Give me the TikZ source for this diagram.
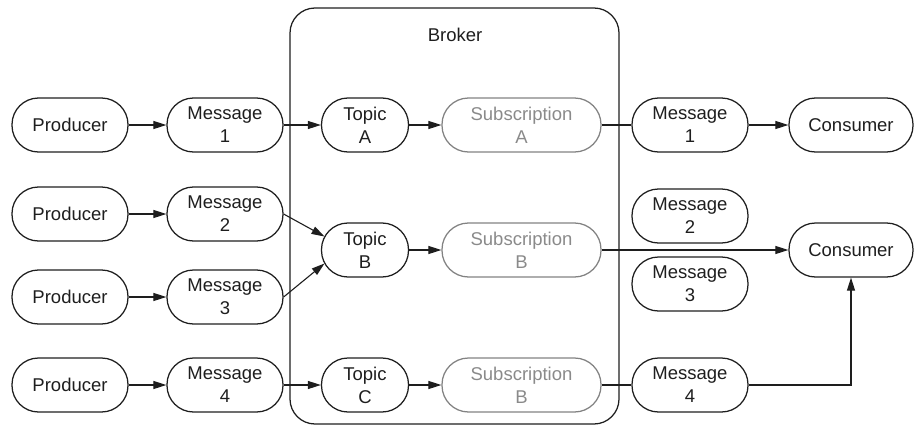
\documentclass[tikz,border=0pt]{standalone}
\usepackage{fontspec}
\setmainfont{Liberation Sans}
\usetikzlibrary{arrows.meta}
\definecolor{subline}{RGB}{130,130,130}
\definecolor{subtext}{RGB}{138,138,138}
\definecolor{ink}{RGB}{30,30,30}

\begin{document}
\begin{tikzpicture}[x=1pt, y=-1pt, ->, >={Triangle[length=13pt,width=8pt]},
    line width=1.1pt, draw=ink, text=ink,
    font=\fontsize{18.5}{23}\selectfont]
    \tikzset{pill/.style={rectangle, draw=ink, line width=1.25pt, rounded corners=26.5pt,
                         minimum height=54pt, minimum width=116pt,
                         align=center, inner sep=2pt},
             topic/.style={pill, minimum width=87pt},
             subscr/.style={pill, draw=subline, text=subtext, minimum width=159pt},
             consumer/.style={pill, minimum width=124pt}}
    \useasboundingbox (0,0) rectangle (914,431);

    % broker
    \node[draw=ink, line width=1.25pt, rounded corners=25pt, minimum width=329pt,
          minimum height=416pt] (broker) at (454.5,216) {};
    \node (brokername) at (455,35) {Broker};

    % producers and messages
    \node[pill] (P1) at (70,125) {Producer};
    \node[pill] (P2) at (70,214) {Producer};
    \node[pill] (P3) at (70,297) {Producer};
    \node[pill] (P4) at (70,385) {Producer};
    \node[pill] (M1) at (225,125) {Message\\1};
    \node[pill] (M2) at (225,214) {Message\\2};
    \node[pill] (M3) at (225,297) {Message\\3};
    \node[pill] (M4) at (225,385) {Message\\4};

    % topics and subscriptions
    \node[topic]  (TA) at (365,125) {Topic\\A};
    \node[topic]  (TB) at (365,250) {Topic\\B};
    \node[topic]  (TC) at (365,385) {Topic\\C};
    \node[subscr] (SA) at (521.5,125) {Subscription\\A};
    \node[subscr] (SB) at (521.5,250) {Subscription\\B};
    \node[subscr] (SC) at (521.5,385) {Subscription\\B};

    % delivered messages and consumers
    \node[pill] (R1) at (690,125) {Message\\1};
    \node[pill] (R2) at (690,216) {Message\\2};
    \node[pill] (R3) at (690,284) {Message\\3};
    \node[pill] (R4) at (690,385) {Message\\4};
    \node[consumer] (C1) at (851,125) {Consumer};
    \node[consumer] (C2) at (851,250) {Consumer};

    \foreach \i in {1,...,4}
        \draw (P\i) -- (M\i);
    \draw (M1) -- (TA);
    \draw (M2.east) -- ([xshift=3.6pt,yshift=13.5pt]TB.west);
    \draw (M3.east) -- ([xshift=3.6pt,yshift=-13.5pt]TB.west);
    \draw (M4) -- (TC);
    \draw (TA) -- (SA);
    \draw (TB) -- (SB);
    \draw (TC) -- (SC);
    \draw[-] (SA) -- (R1);
    \draw (R1) -- (C1);
    \draw (SB) -- (C2);
    \draw[-] (SC) -- (R4);
    \draw (R4.east) -| (C2.south);
\end{tikzpicture}
\end{document}
